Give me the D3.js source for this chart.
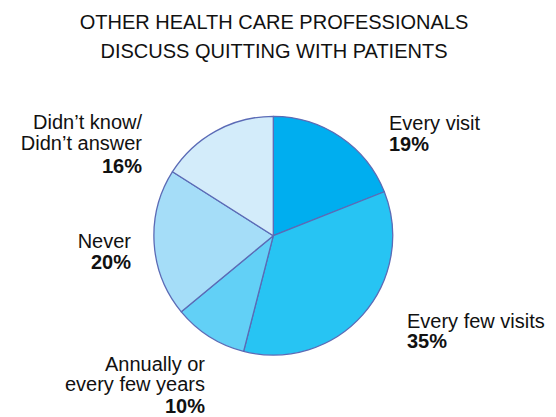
<!DOCTYPE html>
<html>
<head>
<meta charset="utf-8">
<script src="https://cdn.jsdelivr.net/npm/d3@7/dist/d3.min.js"></script>
<style>
  html, body { margin: 0; padding: 0; background: #fff; }
  svg { display: block; font-family: "Liberation Sans", Arial, Helvetica, sans-serif; }
</style>
</head>
<body>
<svg id="chart" width="556" height="417"></svg>
<script>
// Answer categories, clockwise from 12 o'clock
const categories = ["Every visit", "Every few visits", "Annually or every few years", "Never", "Didn't know/Didn't answer"];
const values = [19, 35, 10, 20, 16];
const sliceColors = ["#00AEEF", "#27C4F3", "#62D0F6", "#A5DDF8", "#D3ECFA"];
// Label text lines for each slice
const labelLines = [
  ["Every visit"],
  ["Every few visits"],
  ["Annually or", "every few years"],
  ["Never"],
  ["Didn\u2019t know/", "Didn\u2019t answer"]
];
const titleLines = ["OTHER HEALTH CARE PROFESSIONALS", "DISCUSS QUITTING WITH PATIENTS"];

const svg = d3.select("#chart");
const cx = 273.3, cy = 235.7, radius = 119.4;

// Title
svg.append("g").selectAll("text")
  .data(titleLines).join("text")
  .attr("x", 274).attr("y", (d, i) => 29 + i * 29)
  .attr("text-anchor", "middle")
  .attr("font-size", 20)
  .attr("fill", "#111")
  .text(d => d);

const pie = d3.pie().sort(null).value(d => d.value);
const arc = d3.arc().innerRadius(0).outerRadius(radius);
const data = categories.map((c, i) => ({ name: c, value: values[i], color: sliceColors[i], lines: labelLines[i] }));
const arcs = pie(data);

const g = svg.append("g").attr("transform", `translate(${cx},${cy})`);
g.selectAll("path")
  .data(arcs).join("path")
  .attr("d", arc)
  .attr("fill", d => d.data.color)
  .attr("stroke", "#5B6BB6")
  .attr("stroke-width", 1.3)
  .attr("stroke-linejoin", "round");

// Label placement: anchor point, alignment and line spacing per slice
const labelPos = [
  { x: 389, y: 129.5, anchor: "start", gap: 21 },
  { x: 407, y: 327.5, anchor: "start", gap: 20.5 },
  { x: 205, y: 370.5, anchor: "end", gap: 20.5 },
  { x: 131, y: 248.3, anchor: "end", gap: 21 },
  { x: 142, y: 129.3, anchor: "end", gap: 21 }
];

const labels = svg.append("g");
arcs.forEach((a, i) => {
  const p = labelPos[i];
  const t = labels.append("text")
    .attr("text-anchor", p.anchor)
    .attr("font-size", 20)
    .attr("fill", "#111");
  a.data.lines.forEach((line, j) => {
    t.append("tspan").attr("x", p.x).attr("y", p.y + j * p.gap).text(line);
  });
  t.append("tspan")
    .attr("x", p.x)
    .attr("y", p.y + a.data.lines.length * p.gap + (a.data.lines.length > 1 ? 1.5 : 0))
    .attr("font-weight", "bold")
    .text(d3.format(".0f")(a.data.value) + "%");
});
</script>
</body>
</html>
